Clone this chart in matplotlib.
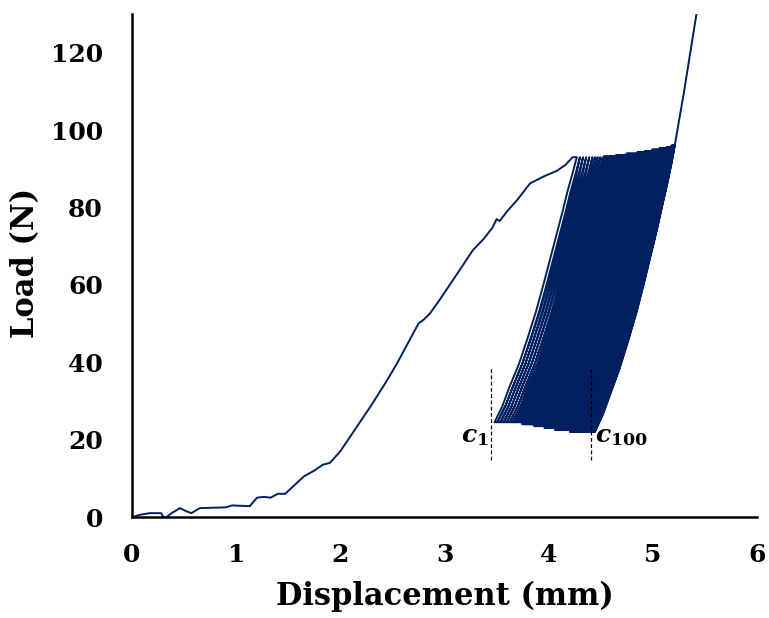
import numpy as np
import matplotlib
matplotlib.use("Agg")
import matplotlib.pyplot as plt

plt.rcParams['font.family'] = ['DejaVu Serif']
plt.rcParams['font.weight'] = 'bold'
plt.rcParams['mathtext.fontset'] = 'custom'
plt.rcParams['mathtext.it'] = 'DejaVu Serif:italic:bold'
plt.rcParams['mathtext.rm'] = 'DejaVu Serif:bold'

navy = '#002060'

# initial monotonic loading up to first peak
init_disp = [0, 0.08, 0.17, 0.28, 0.3, 0.33, 0.38, 0.46, 0.52, 0.57, 0.65, 0.9, 0.96,
             1.13, 1.2, 1.27, 1.33, 1.4, 1.47, 1.55, 1.65, 1.75, 1.83, 1.9, 2.0, 2.1,
             2.2, 2.3, 2.45, 2.55, 2.65, 2.75, 2.8, 2.86, 2.95, 3.05, 3.15, 3.27, 3.38,
             3.46, 3.5, 3.53, 3.6, 3.7, 3.82, 3.95, 4.08, 4.16, 4.23]
init_load = [0, 0.6, 1, 1, 0, 0, 1, 2.3, 1.5, 1, 2.3, 2.5, 3,
             2.8, 5, 5.2, 5, 6, 6, 8, 10.5, 12, 13.5, 14, 17, 21,
             25, 29, 35.4, 40, 45, 50, 51, 52.6, 56, 60, 64, 68.9, 72,
             74.8, 77, 76.5, 79, 82, 86.2, 88, 89.5, 91, 93]

# displacement at the valley of each of the 100 cycles (c1 ... c100)
valley_disp = [3.48, 3.51, 3.54, 3.57, 3.60, 3.63, 3.655, 3.68, 3.705, 3.73,
               3.745, 3.76, 3.775, 3.79, 3.80, 3.81, 3.82, 3.83, 3.84, 3.85,
               3.86, 3.87, 3.88, 3.89, 3.90, 3.91, 3.92, 3.93, 3.94, 3.95,
               3.96, 3.97, 3.98, 3.99, 4.00, 4.01, 4.02, 4.03, 4.04, 4.05,
               4.06, 4.07, 4.075, 4.08, 4.09, 4.10, 4.105, 4.11, 4.12, 4.13,
               4.135, 4.14, 4.15, 4.16, 4.165, 4.17, 4.18, 4.185, 4.19, 4.20,
               4.205, 4.21, 4.22, 4.225, 4.23, 4.24, 4.245, 4.25, 4.26, 4.265,
               4.27, 4.28, 4.285, 4.29, 4.30, 4.305, 4.31, 4.32, 4.325, 4.33,
               4.34, 4.345, 4.35, 4.355, 4.36, 4.365, 4.37, 4.375, 4.38, 4.385,
               4.39, 4.393, 4.396, 4.399, 4.402, 4.405, 4.408, 4.411, 4.415, 4.42]

# peak / valley loads per block of 10 cycles
peak_load = [93, 93.3, 93.6, 94, 94.3, 94.6, 95, 95.3, 95.6, 96]
valley_load = [24.5, 24, 23.5, 23, 22.5, 22.5, 22, 22, 22, 22]

# loop shape: load fraction vs displacement offset from valley
loop_frac = [0, 0.06, 0.13, 0.22, 0.32, 0.42, 0.52, 0.61, 0.70, 0.79, 0.87, 0.94, 1.0]
unload_dx = [0, 0.075, 0.14, 0.235, 0.32, 0.40, 0.47, 0.53, 0.59, 0.65, 0.70, 0.75, 0.79]
reload_dx = [0.025, 0.10, 0.17, 0.26, 0.345, 0.425, 0.495, 0.555, 0.615, 0.67, 0.72, 0.76, 0.79]

# final loading after cycle 100
final_disp = [5.30, 5.46]
final_load = [110, 137]

xs = list(init_disp)
ys = list(init_load)
n = len(valley_disp)
frac = np.array(loop_frac)
for i in range(n):
    pk = peak_load[i // 10]
    vl = valley_load[i // 10]
    pk_next = peak_load[min(i + 1, n - 1) // 10]
    xb = valley_disp[i]
    xb_next = valley_disp[min(i + 1, n - 1)]
    # unloading (top -> valley)
    ux = xb + np.array(unload_dx)
    uy = vl + frac * (pk - vl)
    xs += list(ux[::-1])
    ys += list(uy[::-1])
    # reloading (valley -> next top)
    rx = xb + np.array(reload_dx) + frac * (xb_next - xb)
    ry = vl + frac * (pk_next - vl)
    xs += list(rx)
    ys += list(ry)
xs += final_disp
ys += final_load

fig = plt.figure(figsize=(7.69, 6.18), dpi=100)
ax = fig.add_axes([0.1717, 0.1634, 0.8127, 0.8139])
ax.plot(xs, ys, color=navy, lw=1.4)

# c1 / c100 markers
ax.plot([3.45, 3.45], [14.7, 38.5], color='black', lw=0.9, ls=(0, (3, 2)))
ax.plot([4.41, 4.41], [14.7, 38.5], color='black', lw=0.9, ls=(0, (3, 2)))
ax.text(3.42, 21, r'$c_{1}$', fontsize=18, ha='right', va='center')
ax.text(4.44, 21, r'$c_{100}$', fontsize=18, ha='left', va='center')

ax.set_xlim(0, 6)
ax.set_ylim(0, 130)
ax.set_xticks([0, 1, 2, 3, 4, 5, 6])
ax.set_yticks([0, 20, 40, 60, 80, 100, 120])
ax.tick_params(length=0, labelsize=18)
ax.tick_params(axis='x', pad=19)
ax.tick_params(axis='y', pad=21)
for s in ['top', 'right']:
    ax.spines[s].set_visible(False)
for s in ['left', 'bottom']:
    ax.spines[s].set_linewidth(1.8)

ax.text(0.5, -0.157, 'Displacement (mm)', transform=ax.transAxes,
        fontsize=22, fontweight='bold', ha='center', va='center')
ax.text(-0.171, 0.505, 'Load (N)', transform=ax.transAxes, rotation=90,
        fontsize=22, fontweight='bold', ha='center', va='center')

fig.savefig('out.png', dpi=100)
